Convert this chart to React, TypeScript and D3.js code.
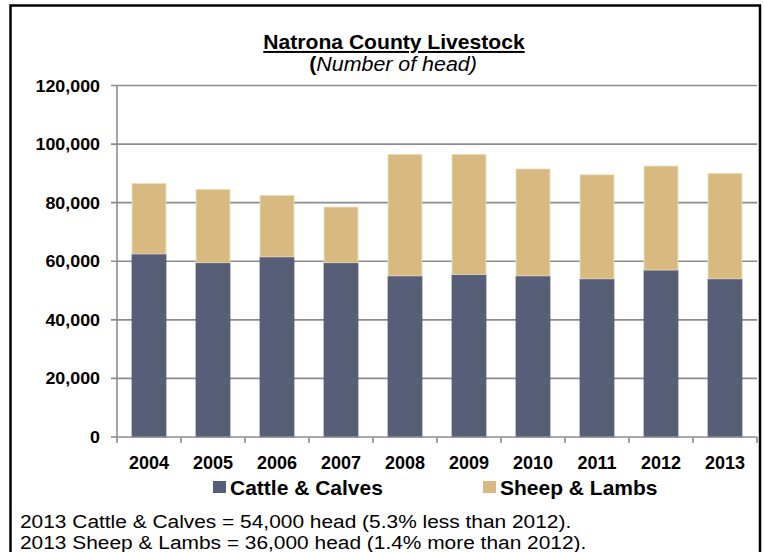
import React from "react";
import * as d3 from "d3";

const years = ["2004", "2005", "2006", "2007", "2008", "2009", "2010", "2011", "2012", "2013"];
const cattle = [62500, 59500, 61500, 59500, 55000, 55500, 55000, 54000, 57000, 54000];
const sheep = [24000, 25000, 21000, 19000, 41500, 41000, 36500, 35500, 35500, 36000];
const seriesNames = ["Cattle & Calves", "Sheep & Lambs"];
const yTicks = [0, 20000, 40000, 60000, 80000, 100000, 120000];
const footnotes = [
  "2013 Cattle & Calves = 54,000 head (5.3% less than 2012).",
  "2013 Sheep & Lambs = 36,000 head (1.4% more than 2012).",
];

const W = 764;
const H = 552;
const FONT = "'Liberation Sans', Arial, Helvetica, sans-serif";
const COLORS = ["#565f77", "#d9b982"];
const STROKES = ["#44598a", "#efdcb4"];
const GRID = "#8c8c8c";

const x0 = 117;
const x1 = 757;
const yBottom = 437;
const yTop = 85.5;

function SText(props: any) {
  const { x, y, sx = 1.05, anchor = "start", size, weight = "normal", style, children } = props;
  return (
    <text
      transform={`translate(${x},${y}) scale(${sx},1)`}
      textAnchor={anchor}
      fontFamily={FONT}
      fontSize={size}
      fontWeight={weight}
      fill="#000"
      style={style}
    >
      {children}
    </text>
  );
}

export default function App() {
  const x = d3.scaleBand<string>().domain(years).range([x0, x1]).paddingInner(0.47).paddingOuter(0.235);
  const xb = d3.scaleBand<string>().domain(years).range([x0, x1]);
  const y = d3.scaleLinear().domain([0, 120000]).range([yBottom, yTop]);
  const fmt = d3.format(",");

  const rows = years.map((yr, i) => ({ year: yr, cattle: cattle[i], sheep: sheep[i] }));
  const stack = d3.stack<any>().keys(["cattle", "sheep"]);
  const layers = stack(rows);

  return (
    <svg
      width={W}
      height={H}
      style={{ position: "absolute", left: 0, top: 0, background: "#fff" }}
    >
      <rect x={0} y={0} width={W} height={H} fill="#fff" />
      <rect x={10.5} y={5.5} width={749.5} height={600} fill="none" stroke="#000" strokeWidth={2.5} />

      {/* title */}
      <SText x={394} y={49} anchor="middle" size={20} weight="bold" sx={1.055} style={{ textDecoration: "underline" }}>
        Natrona County Livestock
      </SText>
      <text
        transform={`translate(393,71) scale(1.07,1)`}
        textAnchor="middle"
        fontFamily={FONT}
        fontSize={20}
        fill="#000"
      >
        <tspan fontWeight="bold">(</tspan>
        <tspan fontStyle="italic">Number of head)</tspan>
      </text>

      {/* gridlines */}
      {yTicks.filter((t) => t > 0).map((t) => (
        <line key={t} x1={x0 - 6} x2={x1} y1={y(t)} y2={y(t)} stroke={GRID} strokeWidth={1.6} />
      ))}
      <line x1={x0 - 6} x2={x0} y1={y(0)} y2={y(0)} stroke={GRID} strokeWidth={1.6} />

      {/* bars */}
      {layers.map((layer, li) =>
        layer.map((d: any, i: number) => (
          <rect
            key={`${li}-${i}`}
            x={x(years[i])}
            width={x.bandwidth()}
            y={y(d[1])}
            height={y(d[0]) - y(d[1])}
            fill={COLORS[li]}
            stroke={STROKES[li]}
            strokeWidth={0.8}
          />
        ))
      )}

      {/* axes */}
      <line x1={x0} x2={x0} y1={yTop} y2={yBottom} stroke={GRID} strokeWidth={1.6} />
      <line x1={x0} x2={x1} y1={yBottom} y2={yBottom} stroke={GRID} strokeWidth={1.6} />
      {years.map((yr) => (
        <line key={yr} x1={xb(yr)} x2={xb(yr)} y1={yBottom} y2={yBottom + 6} stroke={GRID} strokeWidth={1.6} />
      ))}
      <line x1={x1} x2={x1} y1={yBottom} y2={yBottom + 6} stroke={GRID} strokeWidth={1.6} />

      {/* y tick labels */}
      {yTicks.map((t) => (
        <SText key={t} x={100} y={y(t) + 6} anchor="end" size={17} weight="bold" sx={1.05}>
          {fmt(t)}
        </SText>
      ))}

      {/* x tick labels */}
      {years.map((yr) => (
        <SText key={yr} x={(xb(yr) as number) + xb.bandwidth() / 2} y={469} anchor="middle" size={18} weight="bold" sx={1.0}>
          {yr}
        </SText>
      ))}

      {/* legend */}
      <rect x={213} y={481} width={13} height={12} fill={COLORS[0]} />
      <SText x={230} y={495} size={20} weight="bold">{seriesNames[0]}</SText>
      <rect x={483} y={481} width={13} height={12} fill={COLORS[1]} />
      <SText x={500} y={495} size={20} weight="bold">{seriesNames[1]}</SText>

      {/* footnotes */}
      {footnotes.map((f, i) => (
        <SText key={i} x={20} y={528 + i * 20.5} size={19} sx={1.1}>
          {f}
        </SText>
      ))}
    </svg>
  );
}
